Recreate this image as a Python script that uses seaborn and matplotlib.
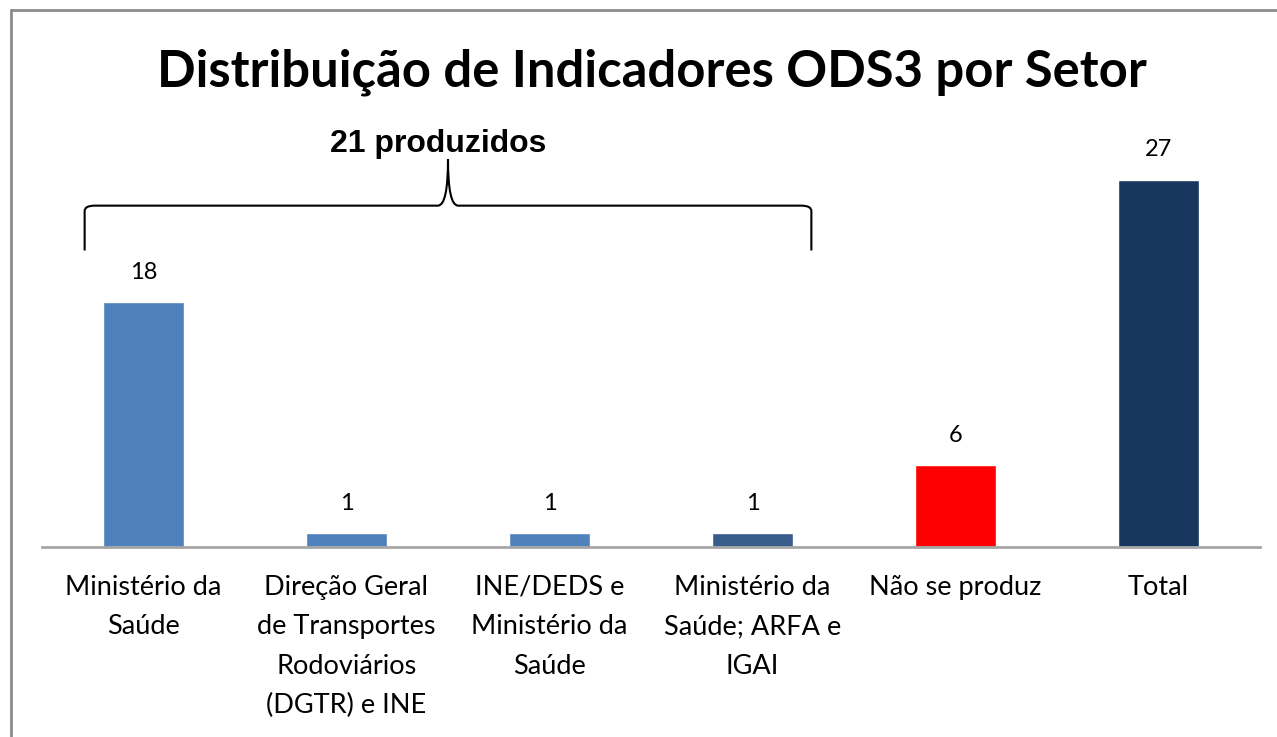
import matplotlib
matplotlib.use("Agg")
import matplotlib.pyplot as plt
import seaborn as sns
import pandas as pd
from matplotlib.path import Path
from matplotlib.patches import PathPatch
from matplotlib.lines import Line2D

categories = [
    "Ministério da\nSaúde",
    "Direção Geral\nde Transportes\nRodoviários\n(DGTR) e INE",
    "INE/DEDS e\nMinistério da\nSaúde",
    "Ministério da\nSaúde; ARFA e\nIGAI",
    "Não se produz",
    "Total",
]
values = [18, 1, 1, 1, 6, 27]
colors = ["#4F81BD", "#4F81BD", "#4F81BD", "#385D8A", "#FF0000", "#17375E"]
title = "Distribuição de Indicadores ODS3 por Setor"
bracket_label = "21 produzidos"

sns.set_theme(style="white")
plt.rcParams["font.family"] = ["Lato", "DejaVu Sans"]

W, H = 1277, 737
fig = plt.figure(figsize=(W / 100, H / 100), dpi=100)
fig.patch.set_facecolor("white")

ax = fig.add_axes([42 / W, 1 - 547 / H, (1260 - 42) / W, (547 - 100) / H])
df = pd.DataFrame({"cat": categories, "val": values})
sns.barplot(data=df, x="cat", y="val", hue="cat", palette=colors, legend=False,
            width=0.4, ax=ax, saturation=1)

ax.set_xlim(-0.5, 5.5)
ax.set_ylim(0, 447 / 13.6)
for s in ["top", "right", "left"]:
    ax.spines[s].set_visible(False)
ax.spines["bottom"].set_color("#A6A6A6")
ax.spines["bottom"].set_linewidth(2)
ax.set_yticks([])
ax.set_xlabel("")
ax.set_ylabel("")
ax.tick_params(axis="x", length=0, pad=20)
ax.set_xticks(range(len(categories)))
ax.set_xticklabels(categories, fontsize=19.5, color="black", linespacing=1.72, va="top")

for i, v in enumerate(values):
    ax.annotate(str(v), (i, v), xytext=(0, 14), textcoords="offset points",
                ha="center", va="bottom", fontsize=17, color="black")

# bracket
xl, xr, xm = -0.29, 3.29, 1.5
yb, yt, yc = 21.8, 25.1, 28.5
r = 0.05
verts = [
    (xl, yb), (xl, yt - 0.4), (xl, yt), (xl + r, yt),
    (xm - r, yt), (xm, yt), (xm, yc),
    (xm, yc), (xm, yt), (xm + r, yt),
    (xr - r, yt), (xr, yt), (xr, yt - 0.4), (xr, yb),
]
codes = [Path.MOVETO, Path.LINETO, Path.CURVE3, Path.CURVE3,
         Path.LINETO, Path.CURVE3, Path.CURVE3,
         Path.MOVETO, Path.CURVE3, Path.CURVE3,
         Path.LINETO, Path.CURVE3, Path.CURVE3, Path.LINETO]
ax.add_patch(PathPatch(Path(verts, codes), fill=False, lw=1.5, color="black", clip_on=False))
ax.text(1.45, 29.6, bracket_label, ha="center", va="center", fontsize=23,
        fontweight="bold", family=["Liberation Sans", "DejaVu Sans"], color="black")

fig.text(651.5 / W, 1 - 72 / H, title, ha="center", va="center", fontsize=36.5,
         fontweight="bold", family=["Lato", "DejaVu Sans"], color="black")

# outer frame (top and left visible)
fig.add_artist(Line2D([11 / W, 1.0], [1 - 10 / H, 1 - 10 / H], transform=fig.transFigure,
                      color="#8C8C8C", lw=2))
fig.add_artist(Line2D([11 / W, 11 / W], [0, 1 - 10 / H], transform=fig.transFigure,
                      color="#8C8C8C", lw=2))

fig.savefig("out.png", dpi=100)
